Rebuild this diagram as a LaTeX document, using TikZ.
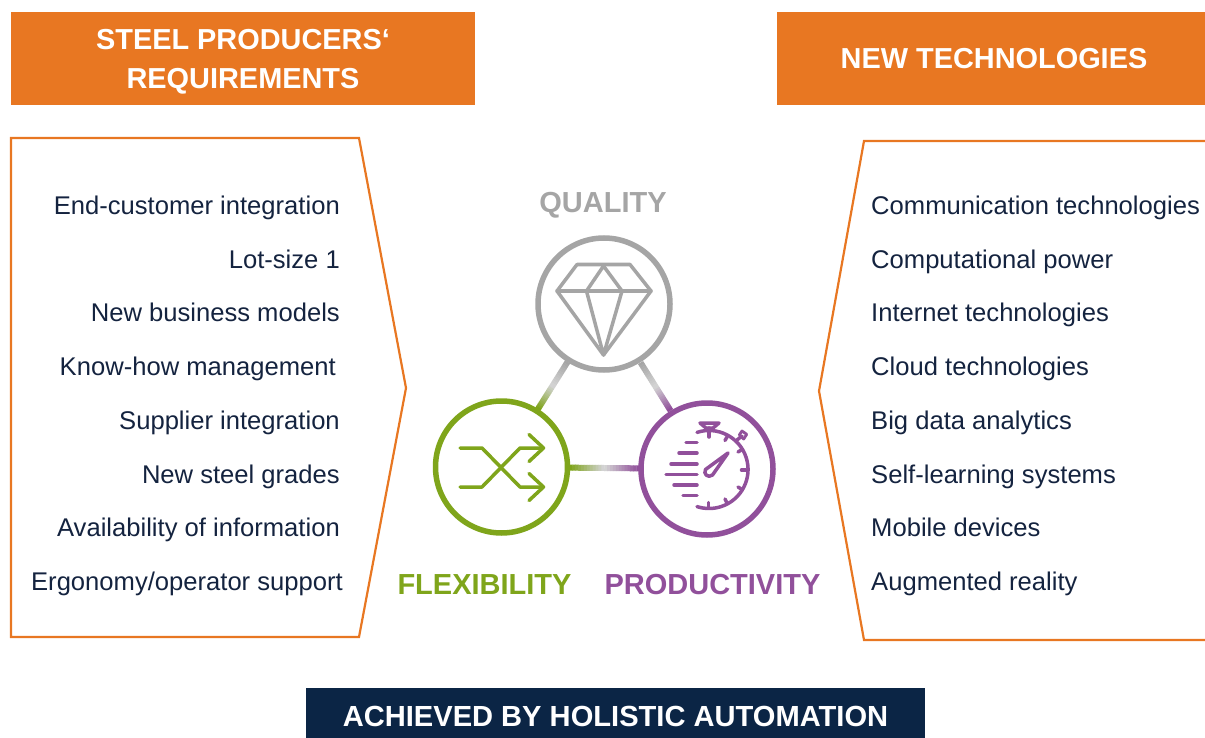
\documentclass[tikz,border=0pt]{standalone}
\usepackage{fontspec}
\setmainfont{Liberation Sans}
\usetikzlibrary{calc}
\definecolor{orangeC}{HTML}{E87722}
\definecolor{navyC}{HTML}{0B2545}
\definecolor{txtC}{HTML}{14233F}
\definecolor{greyC}{HTML}{A5A5A5}
\definecolor{greenC}{HTML}{7FA51B}
\definecolor{purpC}{HTML}{91509B}
\definecolor{midC}{HTML}{D2D2D2}
\newcommand{\lowertext}[2]{\raisebox{-#1}[\height][\depth]{#2}}
\tikzset{
  header/.style={fill=orangeC,text=white,font=\fontsize{28.9}{39}\selectfont\bfseries,align=center,inner sep=0pt,minimum height=93pt},
  item/.style={text=txtC,font=\fontsize{25.6}{28}\selectfont,inner sep=0pt,anchor=base east},
  itemr/.style={text=txtC,font=\fontsize{25.6}{28}\selectfont,inner sep=0pt,anchor=base west},
  panel/.style={draw=orangeC,line width=2.2pt,line join=miter},
  ring/.style={circle,line width=5.5pt,fill=white,minimum size=132pt,inner sep=0pt},
  icon/.style={line width=3.5pt,line cap=round,line join=round},
  captxt/.style={font=\fontsize{29}{33}\selectfont\bfseries,inner sep=0pt,anchor=base}
}
\newcommand{\gradlink}[6]{%
  \coordinate (ga) at ($(#1)!#3!(#2)$);
  \coordinate (gb) at ($(#1)!#4!(#2)$);
  \foreach \i in {0,...,23}{
    \pgfmathsetmacro{\ta}{\i/24}\pgfmathsetmacro{\tb}{(\i+1.15)/24}
    \pgfmathsetmacro{\pc}{\i<12 ? 100-\i*100/11 : 0}
    \pgfmathsetmacro{\qc}{\i<12 ? 0 : (\i-12)*100/11}
    \ifnum\i<12
      \draw[line width=6pt,color=#5!\pc!midC] ($(ga)!\ta!(gb)$) -- ($(ga)!\tb!(gb)$);
    \else
      \draw[line width=6pt,color=#6!\qc!midC] ($(ga)!\ta!(gb)$) -- ($(ga)!\tb!(gb)$);
    \fi
  }}
\begin{document}
\begin{tikzpicture}[x=1pt,y=-1pt]
\useasboundingbox (0,0) rectangle (1205,738);
% headers
\node[header,minimum width=464pt] (h1) at (243,58.5) {\lowertext{3pt}{STEEL PRODUCERS‘}\\\lowertext{3pt}{REQUIREMENTS}};
\node[header,minimum width=428pt] (h2) at (991,58.5) {\hspace*{6pt}NEW TECHNOLOGIES};
% panels
\draw[panel] (1205,141) -- (864,141) -- (819,391) -- (864,640) -- (1205,640);
\draw[panel] (11,138) -- (359,138) -- (406,388) -- (359,637) -- (11,637) -- cycle;
% left items
\node[item] (l1) at (340,214.8) {End-customer integration};
\node[item] (l2) at (340,268.8) {Lot-size 1};
\node[item] (l3) at (340,321) {New business models};
\node[item] (l4) at (336,375) {Know-how management};
\node[item] (l5) at (340,429) {Supplier integration};
\node[item] (l6) at (340,483) {New steel grades};
\node[item] (l7) at (340,536) {Availability of information};
\node[item] (l8) at (343,590) {Ergonomy/operator support};
% right items
\node[itemr] (r1) at (871,214.8) {Communication technologies};
\node[itemr] (r2) at (871,268.8) {Computational power};
\node[itemr] (r3) at (871,321) {Internet technologies};
\node[itemr] (r4) at (871,375) {Cloud technologies};
\node[itemr] (r5) at (871,429) {Big data analytics};
\node[itemr] (r6) at (871,483) {Self-learning systems};
\node[itemr] (r7) at (871,536) {Mobile devices};
\node[itemr] (r8) at (871,590) {Augmented reality};
% hub
\node[ring,draw=greyC] (q) at (604,304) {};
\node[ring,draw=greenC] (f) at (501.5,467) {};
\node[ring,draw=purpC] (p) at (707,469) {};
\gradlink{q.center}{f.center}{0.355}{0.645}{greyC}{greenC}
\gradlink{q.center}{p.center}{0.355}{0.645}{greyC}{purpC}
\gradlink{f.center}{p.center}{0.33}{0.67}{greenC}{purpC}
\node[captxt,text=greyC] (tq) at (603,213) {QUALITY};
\node[captxt,text=greenC] (tf) at (484.5,594) {FLEXIBILITY};
\node[captxt,text=purpC] (tp) at (712.5,594) {PRODUCTIVITY};
% diamond icon
\begin{scope}[icon,draw=greyC]
\draw (577,264.5) -- (630,264.5) -- (651,291) -- (603.5,355) -- (557,291) -- cycle;
\draw (557,291) -- (651,291);
\draw (586.5,291) -- (603.5,266) -- (622,291);
\draw (586.5,291) -- (603.5,355) -- (622,291);
\end{scope}
% shuffle icon
\begin{scope}[icon,draw=greenC]
\draw (460,448) -- (482,448) -- (520,487) -- (543,487);
\draw (460,487) -- (482,487) -- (520,448) -- (543,448);
\draw (529,434.5) -- (543.5,448) -- (529,461.5);
\draw (529,473.5) -- (543.5,487) -- (529,500.5);
\end{scope}
% stopwatch icon
\begin{scope}[icon,draw=purpC]
\draw (697,432.4) arc[start angle=-108,end angle=108,radius=39];
\draw (700,423) -- (719,423) -- (713,428) -- (706,428) -- cycle;
\draw (709,428) -- (709,437);
\draw (737,440) -- (742,436);
\draw[line width=2.8pt] (742,431) -- (746.7,434.3) -- (743.7,439) -- (739.3,435) -- cycle;
\draw (708.5,502.5) -- (708.5,507);
\draw (725,499) -- (727,503);
\draw (738,487) -- (742,489.5);
\draw (741.5,470) -- (746,470);
\draw (738,452) -- (742,449.5);
\draw (725,440.5) -- (727,437);
% needle
\draw (728,453) -- (705.5,469.5) .. controls (703,474) and (708,478.5) .. (712.5,475) -- cycle;
% speed lines
\draw (686,442.7) -- (697,442.7);
\draw (679,453) -- (697,453);
\draw (671,464) -- (697,464);
\draw (666,474.7) -- (697,474.7);
\draw (674,485) -- (697,485);
\draw (683,495.7) -- (697,495.7);
\end{scope}
% footer
\node[fill=navyC,text=white,font=\fontsize{29.1}{33}\selectfont\bfseries,minimum width=619pt,minimum height=50pt,inner sep=0pt] (foot) at (615.5,713) {\lowertext{3.5pt}{ACHIEVED BY HOLISTIC AUTOMATION}};
\end{tikzpicture}
\end{document}
